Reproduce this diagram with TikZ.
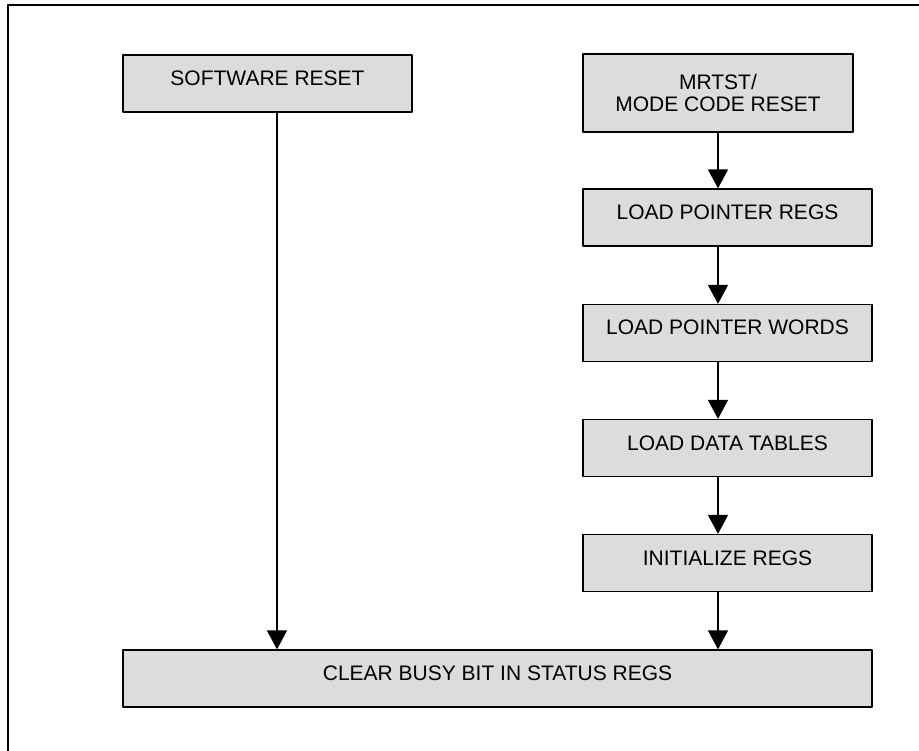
\documentclass[tikz,border=0pt]{standalone}
\usepackage{fontspec}
\setmainfont{Liberation Sans}
\usetikzlibrary{arrows.meta}
\definecolor{boxgray}{RGB}{220,220,220}
\tikzset{
    stagebox/.style={draw, line width=1.2pt, fill=boxgray, inner sep=0pt,
        font=\fontsize{21}{22}\selectfont},
    stage/.style={stagebox, minimum height=57pt, text height=15pt, text depth=11pt},
    flow/.style={line width=1.5pt, -{Triangle[length=19pt, width=20pt]}},
}
\begin{document}
\begin{tikzpicture}[line cap=round, line join=round, x=1pt, y=-1pt]
                \useasboundingbox (0, 0) rectangle (919, 751);
                \clip (0, 0) rectangle (919, 751);
                \draw[line width=2pt] (8, 5) rectangle (940, 770);
                \coordinate (lcol) at (277, 0);
                \coordinate (rcol) at (718, 0);
                \node[stage, minimum width=289pt] (swreset) at (267.5, 83.5) {SOFTWARE RESET};
                \node[stagebox, minimum width=270pt, minimum height=78pt, align=center] (mrtst) at (718, 93) {MRTST/\\MODE CODE RESET};
                \node[stage, minimum width=289pt] (ptrregs) at (727.5, 217.5) {LOAD POINTER REGS};
                \node[stage, minimum width=289pt] (ptrwords) at (727.5, 333) {LOAD POINTER WORDS};
                \node[stage, minimum width=289pt] (tables) at (727.5, 448) {LOAD DATA TABLES};
                \node[stage, minimum width=289pt] (initregs) at (727.5, 563) {INITIALIZE REGS};
                \node[stage, minimum width=749pt] (clearbusy) at (497.5, 678.5) {CLEAR BUSY BIT IN STATUS REGS};
                \draw[flow] (swreset.south -| lcol) -- (clearbusy.north -| lcol);
                \foreach \from/\to in {mrtst/ptrregs, ptrregs/ptrwords, ptrwords/tables, tables/initregs, initregs/clearbusy}
                    \draw[flow] (\from.south -| rcol) -- (\to.north -| rcol);
            \end{tikzpicture}
\end{document}
